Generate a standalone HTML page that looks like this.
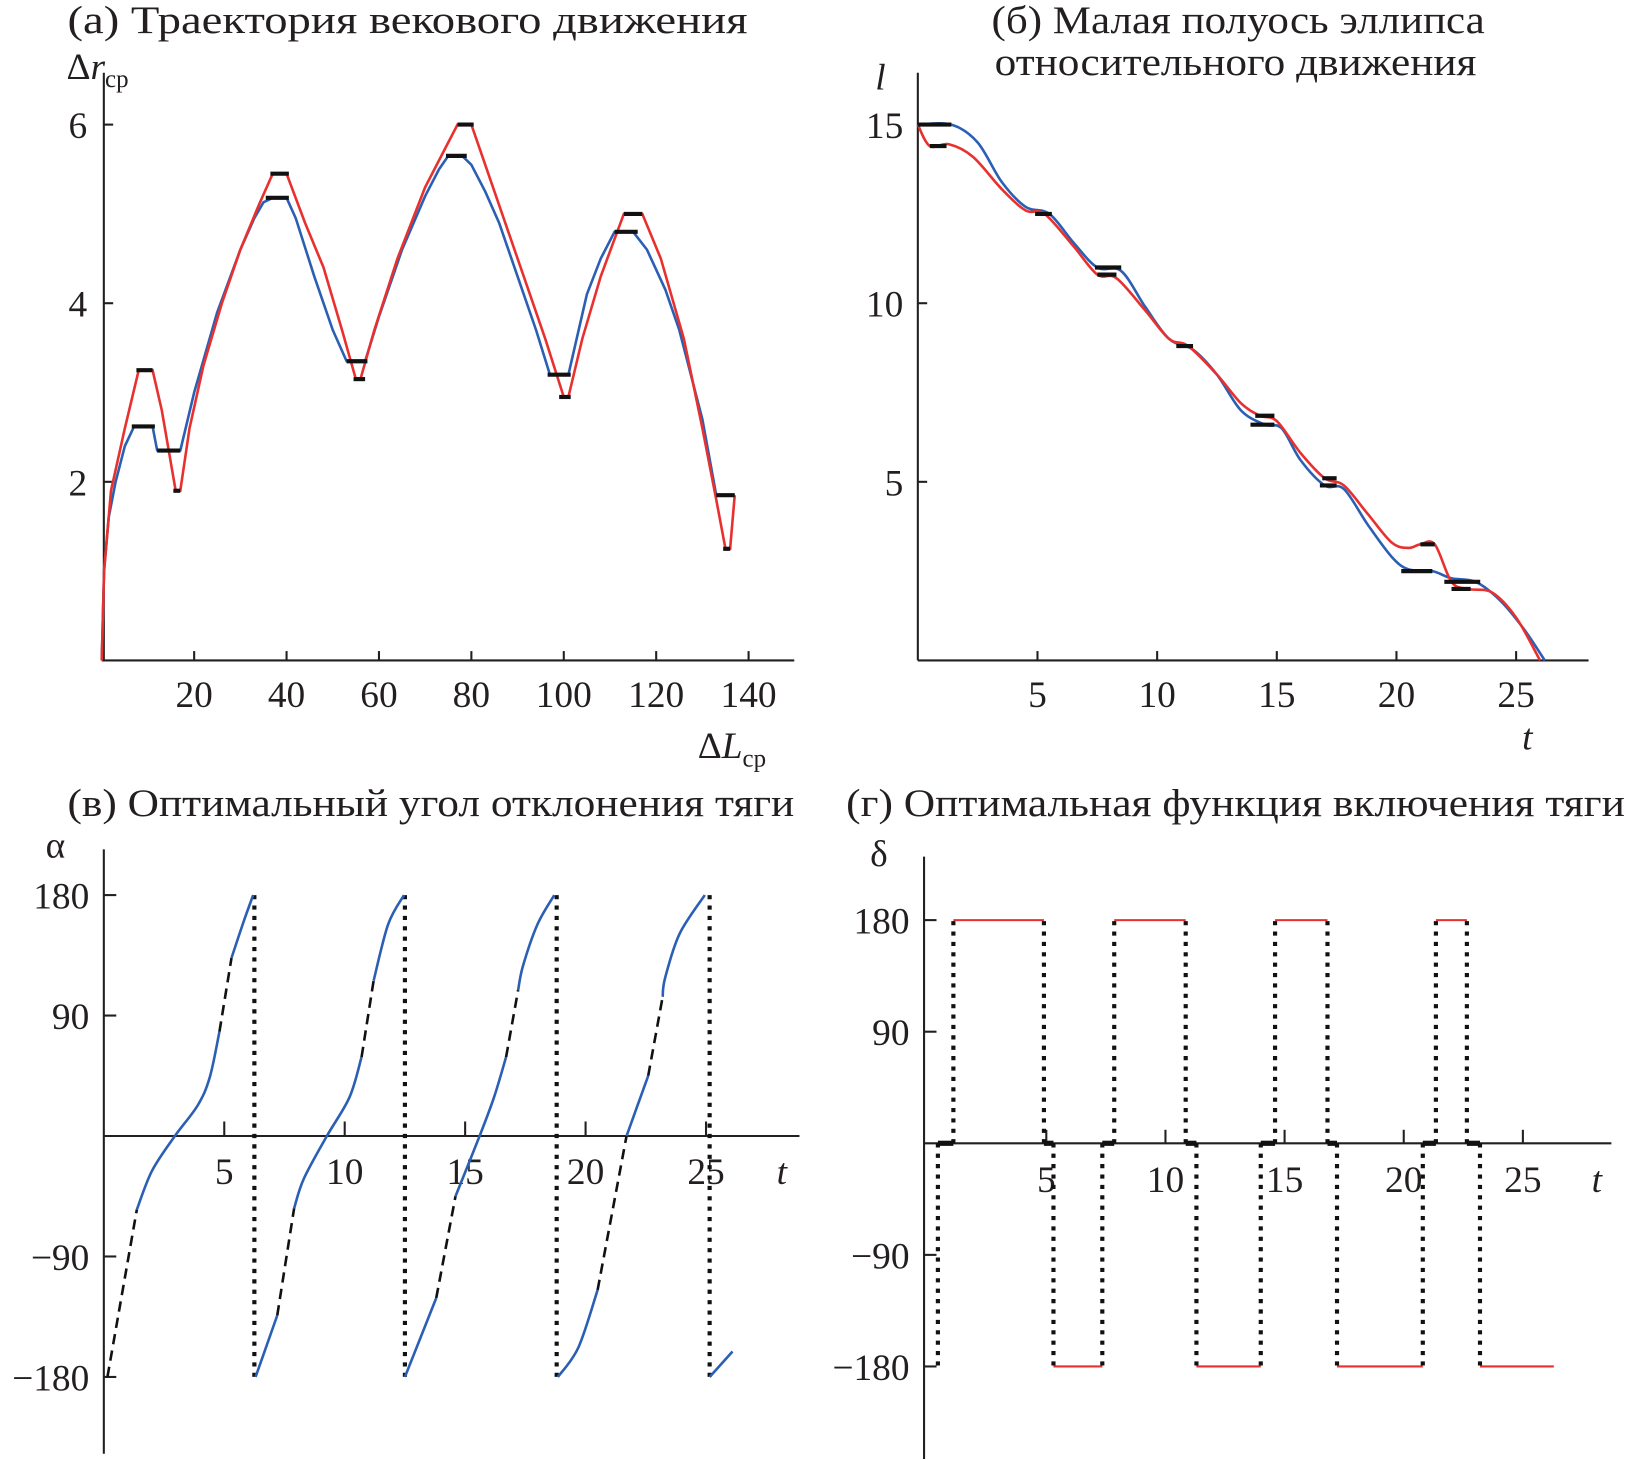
<!DOCTYPE html>
<html><head><meta charset="utf-8"><style>
html,body{margin:0;padding:0;background:#fff;}
svg{display:block;}
text{font-family:"Liberation Serif",serif;fill:#231f20;}
</style></head><body>
<svg id="fig" width="1628" height="1460" viewBox="0 0 1568 1406" preserveAspectRatio="none" xmlns="http://www.w3.org/2000/svg">
<g font-size="38">
<text x="65" y="32" textLength="655" lengthAdjust="spacingAndGlyphs">(а) Траектория векового движения</text>
<text x="955" y="32" textLength="475" lengthAdjust="spacingAndGlyphs">(б) Малая полуось эллипса</text>
<text x="958" y="72" textLength="464" lengthAdjust="spacingAndGlyphs">относительного движения</text>
<text x="65" y="786" textLength="700" lengthAdjust="spacingAndGlyphs">(в) Оптимальный угол отклонения тяги</text>
<text x="815" y="786" textLength="750" lengthAdjust="spacingAndGlyphs">(г) Оптимальная функция включения тяги</text>
</g>
<g font-size="36">
<text x="64" y="76">Δ<tspan font-style="italic">r</tspan><tspan font-size="24" dy="8">ср</tspan></text>
<text x="672" y="730">Δ<tspan font-style="italic">L</tspan><tspan font-size="24" dy="8">ср</tspan></text>
<text x="843" y="86" font-style="italic">l</text>
<text x="1466" y="722" font-style="italic">t</text>
<text x="44" y="826">α</text>
<text x="748" y="1140" font-style="italic">t</text>
<text x="838" y="834">δ</text>
<text x="1533" y="1148" font-style="italic">t</text>
</g>
<g id="marks"></g>
</svg>
<script>
// ---------- Panel (a) data ----------
const aXTicks=[20,40,60,80,100,120,140];
const aYTicks=[2,4,6];
const aBlue=[[0,0],[0.5,1],[1.5,1.6],[3,2],[5,2.4],[7,2.62],[11,2.62],[12,2.35],[17,2.35],[20,3.0],[25,3.9],[30,4.6],[33,4.95],[35,5.13],[37,5.18],[40,5.18],[42,4.95],[46,4.3],[50,3.7],[53,3.35],[57,3.35],[60,3.85],[65,4.6],[70,5.2],[73,5.5],[75,5.65],[78,5.65],[80,5.55],[83,5.25],[86,4.9],[90,4.3],[94,3.7],[97,3.2],[101,3.2],[105,4.1],[108,4.5],[111,4.8],[115,4.8],[118,4.6],[122,4.15],[125,3.7],[130,2.7],[133,1.85],[137,1.85]];
const aRed=[[0,0],[0.5,1],[2,1.9],[5,2.6],[8,3.25],[11,3.25],[13,2.8],[16,1.9],[17,1.9],[19,2.6],[22,3.3],[26,4.0],[30,4.6],[34,5.1],[37,5.45],[40,5.45],[44,4.9],[48,4.4],[52,3.7],[55,3.15],[56,3.15],[59,3.7],[64,4.5],[70,5.3],[74,5.7],[77,6.0],[80,6.0],[84,5.4],[88,4.8],[92,4.2],[96,3.6],[100,2.95],[101,2.95],[104,3.6],[108,4.3],[113,5.0],[117,5.0],[121,4.5],[126,3.6],[130,2.6],[133,1.8],[135,1.25],[136,1.25],[137,1.85]];
const aPlateaus=[[6.5,11.5,2.62],[12,17,2.35],[35.5,40.5,5.18],[53,57.5,3.35],[74.5,79,5.65],[96.5,101.5,3.2],[111,116,4.8],[133,137,1.85],[7.5,11,3.25],[15.5,17,1.9],[36.5,40.5,5.45],[54.5,57,3.15],[77,80.5,6.0],[99,101.5,2.95],[113,117,5.0],[134.5,136,1.25]];
// ---------- Panel (б) data ----------
const bXTicks=[5,10,15,20,25];
const bYTicks=[5,10,15];
const bBlue=[[0,15],[1.4,15],[2.5,14.5],[3.5,13.4],[4.5,12.7],[5.5,12.5],[6.5,11.7],[7.5,11.0],[8.5,10.9],[9.5,9.9],[10.5,9.0],[11.5,8.7],[12.5,8.0],[13.5,7.0],[14.5,6.6],[15.2,6.5],[16,5.6],[17,4.9],[17.8,4.8],[18.8,3.8],[19.8,2.9],[20.5,2.55],[21.5,2.5],[22.3,2.3],[23.3,2.2],[24.3,1.7],[25.3,0.9],[26.2,0]];
const bRed=[[0,15],[0.5,14.4],[1.3,14.45],[2.3,14.1],[3.5,13.2],[4.5,12.6],[5.3,12.5],[6.5,11.6],[7.5,10.8],[8.3,10.7],[9.5,9.8],[10.5,9.0],[11.3,8.8],[12.5,8.0],[13.5,7.2],[14.3,6.85],[15,6.7],[16,5.8],[17,5.1],[17.8,4.9],[18.8,4.1],[19.8,3.3],[20.5,3.15],[21,3.25],[21.6,3.25],[22.3,2.2],[23,2.0],[24,1.9],[25,1.2],[26,0]];
const bPlateaus=[[0,1.4,15],[0.5,1.2,14.4],[4.9,5.6,12.5],[7.4,8.5,11.0],[7.5,8.3,10.8],[10.8,11.5,8.8],[13.9,14.9,6.6],[14.1,14.9,6.85],[16.8,17.5,4.9],[16.9,17.5,5.1],[20.2,21.5,2.5],[21,21.6,3.25],[22,23.5,2.2],[22.3,23.1,2.0]];
// ---------- Panel (в) data ----------
const cXTicks=[5,10,15,20,25];
const cYTicks=[-180,-90,90,180];
const cT=[0.15,1.37,2,2.95,3.9,4.4,4.8,5.3,5.8,6.2, 6.3,7.2,7.9,8.3,9.26,10.2,10.7,11.2,11.8,12.46, 12.5,13.8,14.6,15.6,16.2,16.7,17.2,17.4,18,18.7, 18.85,19.7,20.5,21.7,22.1,22.6,23.2,23.3,23.9,24.95, 25.15,26.1];
const cAlpha=[-180,-55,-26,0,23,44,78,133,160,180, -180,-134,-54,-32,0,29,59,116,158,180, -180,-121,-45,0,29,59,109,127,158,180, -180,-158,-115,0,20,45,104,118,151,180, -180,-161];
const cDashed=[[0.15,1.37],[4.8,5.3],[7.2,7.9],[10.7,11.2],[13.8,14.6],[16.7,17.2],[20.5,21.7],[22.6,23.2]];
const cJumps=[6.25,12.5,18.8,25.15];
// ---------- Panel (г) data ----------
const dXTicks=[5,10,15,20,25];
const dYTicks=[-180,-90,90,180];
const dOnPos=[[1.1,4.9],[7.85,10.85],[14.6,16.8],[21.35,22.65]];
const dOnNeg=[[5.3,7.35],[11.3,14.0],[17.2,20.8],[23.2,26.3]];
const dZeroSegs=[[0.45,1.1],[4.9,5.3],[7.35,7.85],[10.85,11.3],[14.0,14.6],[16.8,17.2],[20.8,21.35],[22.65,23.2]];

// ---------- scales ----------
const xa=v=>98+4.45*v, ya=v=>636-86*v;
const xb=t=>884+23.05*t, yb=v=>636-34.4*v;
const xc=t=>100+23.2*t, yc=v=>1094-1.289*v;
const xd=t=>893+22.95*t, yd=v=>1101-1.194*v;

const NS='http://www.w3.org/2000/svg';
const root=document.getElementById('marks');
function mk(tag,attrs){const e=document.createElementNS(NS,tag);for(const k in attrs)e.setAttribute(k,attrs[k]);root.appendChild(e);return e;}
function smooth(pts){let d='M'+pts[0][0]+','+pts[0][1];for(let i=0;i<pts.length-1;i++){const p0=pts[i-1]||pts[i],p1=pts[i],p2=pts[i+1],p3=pts[i+2]||p2;const c1=[p1[0]+(p2[0]-p0[0])/6,p1[1]+(p2[1]-p0[1])/6],c2=[p2[0]-(p3[0]-p1[0])/6,p2[1]-(p3[1]-p1[1])/6];d+='C'+c1+' '+c2+' '+p2;}return d;}
function line(x1,y1,x2,y2,w,c,dash){const e=mk('line',{x1,y1,x2,y2,stroke:c||'#231f20','stroke-width':w||2});if(dash)e.setAttribute('stroke-dasharray',dash);return e;}
function label(x,y,txt,anchor){const e=mk('text',{x,y,'font-size':36,'text-anchor':anchor||'middle'});e.textContent=txt;return e;}
const fmt=v=>v<0?'−'+(-v):String(v);

// ---------- axes ----------
let e;
e=line(100,70,100,636,2);
e=line(98,636,765,636,2);
aXTicks.forEach(v=>{e=line(xa(v),636,xa(v),627,2);
 e=label(xa(v),681,fmt(v));});
aYTicks.forEach(v=>{e=line(100,ya(v),109,ya(v),2);
 e=label(84,ya(v)+13,fmt(v),'end');});

e=line(884,70,884,636,2);
e=line(884,636,1530,636,2);
bXTicks.forEach(v=>{e=line(xb(v),636,xb(v),627,2);
 e=label(xb(v),681,fmt(v));});
bYTicks.forEach(v=>{e=line(884,yb(v),893,yb(v),2);
 e=label(870,yb(v)+13,fmt(v),'end');});

e=line(100,818,100,1400,2);
e=line(100,1094,770,1094,2);
cXTicks.forEach(v=>{e=line(xc(v),1094,xc(v),1080,2);
 e=label(xc(v),1140,fmt(v));});
cYTicks.forEach(v=>{e=line(100,yc(v),112,yc(v),2);
 e=label(86,yc(v)+13,fmt(v),'end');});

e=line(890,825,890,1405,2);
e=line(890,1101,1552,1101,2);
dXTicks.forEach(v=>{e=line(xd(v),1101,xd(v),1088,2);
 e=label(xd(v),1148,fmt(v));});
dYTicks.forEach(v=>{e=line(890,yd(v),902,yd(v),2);
 e=label(876,yd(v)+13,fmt(v),'end');});

// ---------- panel a marks ----------
e=mk('polyline',{points:aBlue.map(p=>xa(p[0])+','+ya(p[1])).join(' '),fill:'none',stroke:'#2b5fb4','stroke-width':2.5,'stroke-linejoin':'round'});

e=mk('polyline',{points:aRed.map(p=>xa(p[0])+','+ya(p[1])).join(' '),fill:'none',stroke:'#e8312f','stroke-width':2.5});

aPlateaus.forEach(p=>{e=line(xa(p[0]),ya(p[2]),xa(p[1]),ya(p[2]),4,'#111');});

// ---------- panel b marks ----------
e=mk('path',{d:smooth(bBlue.map(p=>[xb(p[0]),yb(p[1])])),fill:'none',stroke:'#2b5fb4','stroke-width':2.5});

e=mk('path',{d:smooth(bRed.map(p=>[xb(p[0]),yb(p[1])])),fill:'none',stroke:'#e8312f','stroke-width':2.5});

bPlateaus.forEach(p=>{e=line(xb(p[0]),yb(p[2]),xb(p[1]),yb(p[2]),4,'#111');});

// ---------- panel c marks ----------
cJumps.forEach(t=>{e=line(xc(t),yc(180),xc(t),yc(-180),4,'#111','4,6');});
const isDash=(a,b)=>cDashed.some(r=>a>=r[0]-1e-6&&b<=r[1]+1e-6);
let run=[[cT[0],cAlpha[0]]],runDash=null;
function flush(){if(run.length>1){e=mk('path',{d:smooth(run.map(p=>[xc(p[0]),yc(p[1])])),fill:'none',stroke:runDash?'#111':'#2b5fb4','stroke-width':2.5});
 if(runDash)e.setAttribute('stroke-dasharray','10,6');
 
 }}
for(let i=1;i<cT.length;i++){
 if(cAlpha[i]<cAlpha[i-1]){flush();run=[[cT[i],cAlpha[i]]];runDash=null;continue;}
 const d=isDash(cT[i-1],cT[i]);
 if(runDash!==null&&d!==runDash){flush();run=[run[run.length-1]];}
 runDash=d;run.push([cT[i],cAlpha[i]]);
}
flush();

// ---------- panel d marks ----------
dOnPos.forEach(r=>{e=line(xd(r[0]),yd(180),xd(r[1]),yd(180),2,'#e8312f');
 r.forEach(t=>{e=line(xd(t),yd(0),xd(t),yd(180),4,'#111','4,6');});});
dOnNeg.forEach(r=>{e=line(xd(r[0]),yd(-180),xd(r[1]),yd(-180),2,'#e8312f');});
dZeroSegs.forEach(r=>{e=line(xd(r[0]),yd(0),xd(r[1]),yd(0),5,'#111');});
const dNegSwitch=[dZeroSegs[0][0]].concat(dOnNeg.flat());
dNegSwitch.forEach(t=>{if(t<26){e=line(xd(t),yd(0),xd(t),yd(-180),4,'#111','4,6');}});
</script>
</body></html>
